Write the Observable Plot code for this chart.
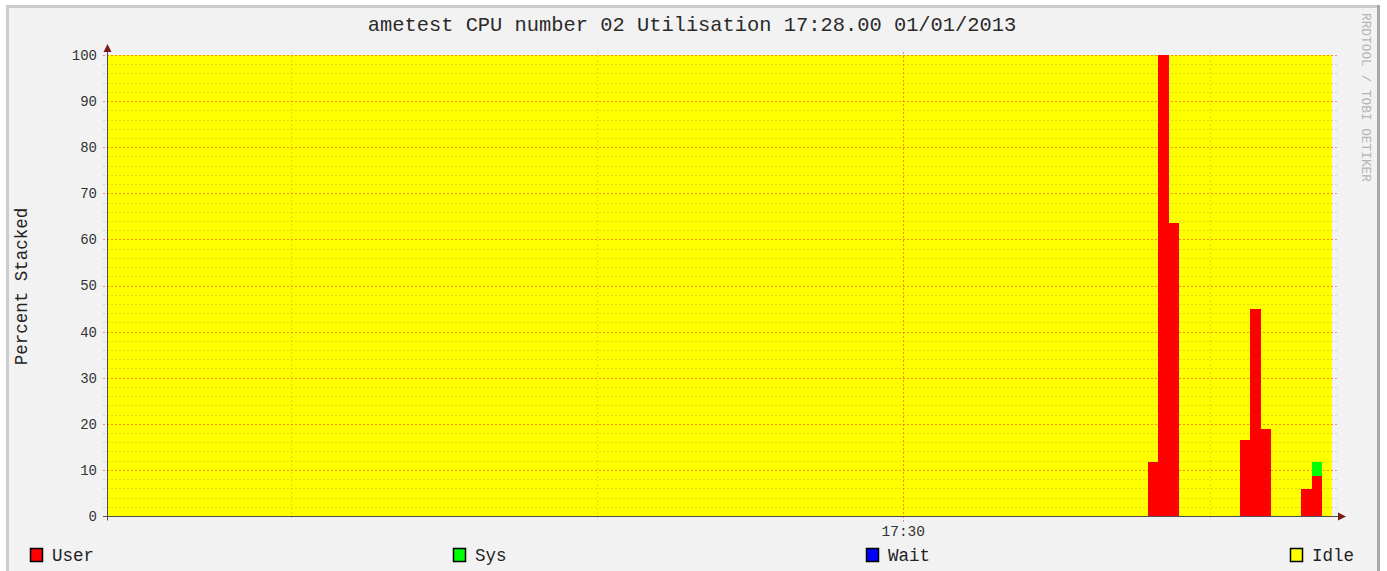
<!DOCTYPE html>
<html><head><meta charset="utf-8">
<script src="https://cdn.jsdelivr.net/npm/d3@7"></script>
<script src="https://cdn.jsdelivr.net/npm/@observablehq/plot@0.6"></script>
<style>html,body{margin:0;padding:0;background:#fff;} #chart svg{display:block;}</style>
</head><body><div id="chart"></div>
<script>
const title = "ametest CPU number 02 Utilisation 17:28.00 01/01/2013";
const yLabel = "Percent Stacked";
const watermark = "RRDTOOL / TOBI OETIKER";
const day = "2013-01-01";
const domainStart = "17:28:42";
const domainEnd = "17:30:42";
const seriesNames = ["User", "Sys", "Wait", "Idle"];
const seriesColors = ["#ff0000", "#00ff00", "#0000ff", "#ffff00"];
const sampleStart = ["17:28:42","17:30:24","17:30:25","17:30:26","17:30:27","17:30:33","17:30:34","17:30:35","17:30:36","17:30:39","17:30:40","17:30:41"];
const sampleEnd   = ["17:30:24","17:30:25","17:30:26","17:30:27","17:30:33","17:30:34","17:30:35","17:30:36","17:30:39","17:30:40","17:30:41","17:30:42"];
const user = [0, 11.8, 100, 63.6, 0, 16.4, 44.8, 18.8, 0, 5.8, 8.7, 0];
const sys  = [0, 0, 0, 0, 0, 0, 0, 0, 0, 0, 3.1, 0];
const wait = [0, 0, 0, 0, 0, 0, 0, 0, 0, 0, 0, 0];
const idle = [100, 88.2, 0, 36.4, 100, 83.6, 55.2, 81.2, 100, 94.2, 88.2, 100];
const yTicks = [0, 10, 20, 30, 40, 50, 60, 70, 80, 90, 100];
const yMinor = [2,4,6,8,12,14,16,18,22,24,26,28,32,34,36,38,42,44,46,48,52,54,56,58,62,64,66,68,72,74,76,78,82,84,86,88,92,94,96,98];
const xGridTimes = ["17:29:00", "17:29:30", "17:30:00", "17:30:30"];
const xMajorTimes = ["17:30:00"];
const xMajorLabels = ["17:30"];

const T = s => new Date(`${day}T${s}Z`);
const FONT = "'Liberation Mono','DejaVu Sans Mono',monospace";

// stacked table built from the arrays
const rows = sampleStart.map((s, i) => {
  const u = user[i], sy = sys[i], w = wait[i], id = idle[i];
  return {t1: T(s), t2: T(sampleEnd[i]),
    u0: 0, u1: u, s0: u, s1: u + sy, w0: u + sy, w1: u + sy + w, i0: u + sy + w, i1: u + sy + w + id};
});

const W = 1387, H = 571;
const MINOR = "rgba(90,90,90,0.2)";
const MAJOR = "rgba(255,30,30,0.5)";

function frameMark() {
  const g = d3.create("svg:g");
  g.append("rect").attr("x", 0).attr("y", 0).attr("width", W).attr("height", H).attr("fill", "#ffffff");
  g.append("rect").attr("x", 7).attr("y", 5).attr("width", 1373).attr("height", H).attr("fill", "#f2f2f2");
  g.append("rect").attr("x", 6).attr("y", 5).attr("width", 3).attr("height", H).attr("fill", "#cccccc");
  g.append("rect").attr("x", 6).attr("y", 5).attr("width", 1374).attr("height", 3).attr("fill", "#cccccc");
  g.append("rect").attr("x", 1377).attr("y", 5).attr("width", 3).attr("height", H).attr("fill", "#a9a9a9");
  return g.node();
}

function gridMark(index, {x, y}) {
  const g = d3.create("svg:g").attr("shape-rendering", "crispEdges");
  const x0 = x(T(domainStart)), x1 = x(T(domainEnd));
  for (const v of yMinor) {
    const py = Math.round(y(v)) + 0.5;
    g.append("line").attr("x1", x0 - 4).attr("x2", x1 + 5).attr("y1", py).attr("y2", py)
      .attr("stroke", MINOR).attr("stroke-dasharray", "2,2");
  }
  for (const v of yTicks) {
    if (v === 0) continue;
    const py = Math.round(y(v)) + 0.5;
    g.append("line").attr("x1", x0 - 4).attr("x2", x1 + 5).attr("y1", py).attr("y2", py)
      .attr("stroke", MAJOR).attr("stroke-dasharray", "2,2");
  }
  for (const s of xGridTimes) {
    const major = xMajorTimes.includes(s);
    const px = Math.round(x(T(s))) + 0.5;
    g.append("line").attr("x1", px).attr("x2", px).attr("y1", y(100) - 3).attr("y2", y(0) + (major ? 6 : 4))
      .attr("stroke", major ? MAJOR : MINOR).attr("stroke-dasharray", "2,2");
  }
  return g.node();
}

function axesMark(index, {x, y}) {
  const g = d3.create("svg:g").attr("font-family", FONT);
  const x0 = x(T(domainStart)), x1 = x(T(domainEnd));
  const yb = Math.round(y(0)) + 0.5, xl = Math.round(x0) + 0.5;
  g.append("line").attr("x1", xl).attr("x2", xl).attr("y1", yb + 4).attr("y2", y(100) - 6).attr("stroke", "#505050");
  g.append("line").attr("x1", x0 - 4).attr("x2", x1 + 7).attr("y1", yb).attr("y2", yb).attr("stroke", "#505050");
  g.append("path").attr("d", `M${xl - 4},${y(100) - 3}L${xl + 4},${y(100) - 3}L${xl},${y(100) - 11}Z`).attr("fill", "#7a1a1a");
  g.append("path").attr("d", `M${x1 + 6},${yb - 4}L${x1 + 6},${yb + 4}L${x1 + 14},${yb}Z`).attr("fill", "#7a1a1a");
  for (const v of yTicks) {
    g.append("text").attr("x", x0 - 10).attr("y", y(v)).attr("dy", "0.35em").attr("text-anchor", "end")
      .attr("font-size", 14).attr("fill", "#333").text(String(v));
  }
  xMajorTimes.forEach((s, i) => {
    g.append("text").attr("x", x(T(s))).attr("y", yb + 19).attr("text-anchor", "middle")
      .attr("font-size", 14.5).attr("fill", "#333").text(xMajorLabels[i]);
  });
  g.append("text").attr("transform", `translate(21,${(y(0) + y(100)) / 2 + 1}) rotate(-90)`).attr("dy", "0.35em")
    .attr("text-anchor", "middle").attr("font-size", 17.5).attr("fill", "#222").text(yLabel);
  g.append("text").attr("x", 692).attr("y", 31).attr("text-anchor", "middle").attr("font-size", 20.4)
    .attr("fill", "#2a2a2a").text(title);
  g.append("text").attr("transform", "translate(1366,13) rotate(90)").attr("dy", "0.35em").attr("text-anchor", "start")
    .attr("font-size", 12.8).attr("fill", "#b5b5b5").text(watermark);
  const legendX = [30, 453, 866, 1290];
  seriesNames.forEach((n, i) => {
    g.append("rect").attr("x", legendX[i] + 0.5).attr("y", 548.5).attr("width", 12).attr("height", 13)
      .attr("fill", seriesColors[i]).attr("stroke", "#000").attr("stroke-width", 1.5);
    g.append("text").attr("x", legendX[i] + 22).attr("y", 561).attr("text-anchor", "start")
      .attr("font-size", 17.5).attr("fill", "#222").text(n);
  });
  return g.node();
}

const chart = Plot.plot({
  width: W, height: H,
  marginLeft: 107, marginRight: 55, marginTop: 55, marginBottom: 55,
  x: {type: "utc", domain: [T(domainStart), T(domainEnd)], axis: null},
  y: {domain: [0, 100], axis: null},
  style: {background: "#ffffff", fontFamily: FONT, overflow: "visible"},
  marks: [
    frameMark,
    Plot.rectY(rows, {x1: "t1", x2: "t2", y1: "i0", y2: "i1", fill: seriesColors[3], shapeRendering: "crispEdges"}),
    gridMark,
    Plot.rectY(rows.filter(r => r.u1 > r.u0), {x1: "t1", x2: "t2", y1: "u0", y2: "u1", fill: seriesColors[0], shapeRendering: "crispEdges"}),
    Plot.rectY(rows.filter(r => r.s1 > r.s0), {x1: "t1", x2: "t2", y1: "s0", y2: "s1", fill: seriesColors[1], shapeRendering: "crispEdges"}),
    Plot.rectY(rows.filter(r => r.w1 > r.w0), {x1: "t1", x2: "t2", y1: "w0", y2: "w1", fill: seriesColors[2], shapeRendering: "crispEdges"}),
    axesMark
  ]
});
document.getElementById("chart").appendChild(chart);
</script>
</body></html>
